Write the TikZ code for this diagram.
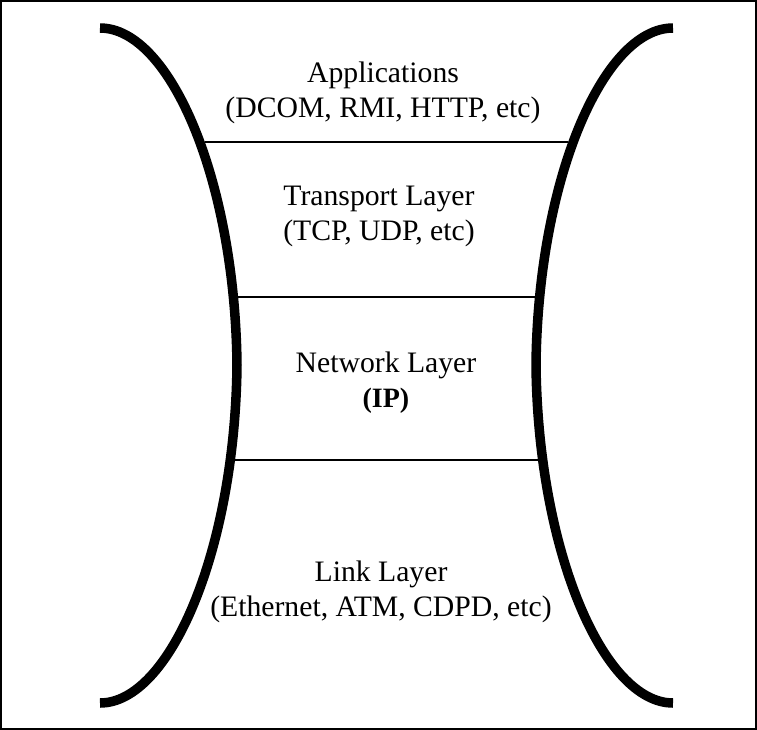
\documentclass[tikz,border=0pt]{standalone}
\usepackage{fontspec}
\setmainfont{Liberation Serif}
\usetikzlibrary{positioning}
\tikzstyle{wall}=[line width=4.75pt, line cap=butt]
\tikzstyle{sep}=[line width=0.7pt]
\tikzstyle{layer}=[align=center, inner sep=0, font=\fontsize{14.85}{17.5}\selectfont]

\begin{document}
\begin{tikzpicture}[x=0.5pt, y=-0.5pt]
                \useasboundingbox (0,0) rectangle (757,730);
                \draw[line width=1pt] (1,1) rectangle (756,729);
                % separators between layers
                \coordinate (s1l) at (205,142); \coordinate (s1r) at (568,142);
                \coordinate (s2l) at (230,297); \coordinate (s2r) at (543,297);
                \coordinate (s3l) at (230,460); \coordinate (s3r) at (543,460);
                \draw[sep] (s1l) -- (s1r);
                \draw[sep] (s2l) -- (s2r);
                \draw[sep] (s3l) -- (s3r);
                % the two walls
                \draw[wall] (100,28) .. controls (170,28) and (235,180) .. (237,365)
                    .. controls (235,550) and (170,703) .. (100,703);
                \draw[wall] (673,28) .. controls (603,28) and (538,180) .. (536,365)
                    .. controls (538,550) and (603,703) .. (673,703);
                % layer labels
                \node[layer] (app) at (383,93) {Applications\\(DCOM, RMI, HTTP, etc)};
                \node[layer] (trans) at (379,216) {Transport Layer\\(TCP, UDP, etc)};
                \node[layer] (net) at (386,383) {Network Layer\\{\bfseries\fontsize{14}{17.5}\selectfont (IP)}};
                \node[layer] (link) at (381,592) {Link Layer\\(Ethernet, ATM, CDPD, etc)};
\end{tikzpicture}
\end{document}
